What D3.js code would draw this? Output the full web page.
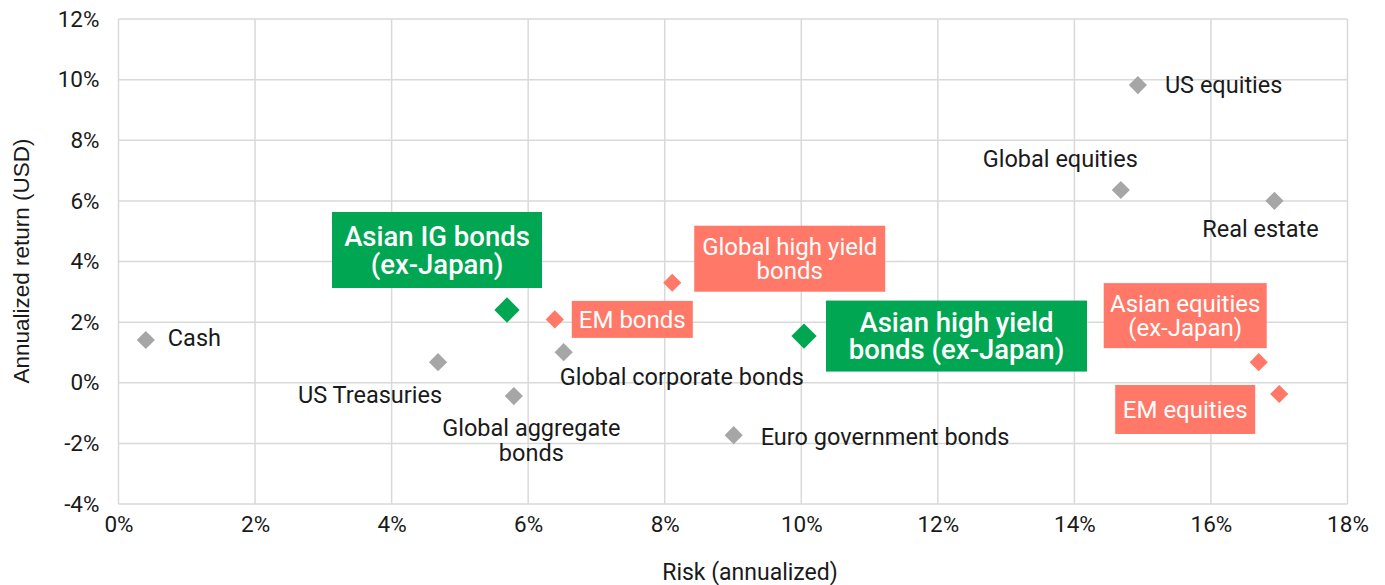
<html>
<head>
<meta charset="utf-8">
<title>Risk vs return</title>
<style>
  body { margin: 0; background: #fff; }
  text { font-family: Roboto, "Noto Sans", sans-serif; }
</style>
<script src="https://d3js.org/d3.v7.min.js"></script>
</head>
<body>
<svg width="1385" height="585"></svg>
<script>
// data (risk %, return %)
var names = ["Cash", "US Treasuries", "Global aggregate bonds", "Global corporate bonds",
  "Euro government bonds", "US equities", "Global equities", "Real estate",
  "Asian IG bonds (ex-Japan)", "EM bonds", "Global high yield bonds",
  "Asian high yield bonds (ex-Japan)", "Asian equities (ex-Japan)", "EM equities"];
var risk = [0.4, 4.68, 5.79, 6.52, 9.01, 14.93, 14.68, 16.93, 5.69, 6.39, 8.11, 10.04, 16.70, 17.00];
var ret = [1.41, 0.68, -0.44, 1.01, -1.73, 9.82, 6.36, 6.00, 2.40, 2.09, 3.30, 1.54, 0.68, -0.37];
var group = ["other", "other", "other", "other", "other", "other", "other", "other",
  "asia", "em", "em", "asia", "em", "em"];
var xTicks = [0, 2, 4, 6, 8, 10, 12, 14, 16, 18];
var yTicks = [-4, -2, 0, 2, 4, 6, 8, 10, 12];

// label layout (pixel offsets from the marker)
var layout = {
  "Cash": {dx: 22, dy: -2, anchor: "start", lines: ["Cash"]},
  "US Treasuries": {dx: 4, dy: 33, anchor: "end", lines: ["US Treasuries"]},
  "Global aggregate bonds": {dx: 17.5, dy: 32, anchor: "middle", lines: ["Global aggregate", "bonds"], lh: 25},
  "Global corporate bonds": {dx: -4, dy: 25, anchor: "start", lines: ["Global corporate bonds"]},
  "Euro government bonds": {dx: 27, dy: 2, anchor: "start", lines: ["Euro government bonds"]},
  "US equities": {dx: 27, dy: 0, anchor: "start", lines: ["US equities"]},
  "Global equities": {dx: -60.5, dy: -31, anchor: "middle", lines: ["Global equities"]},
  "Real estate": {dx: -14, dy: 28, anchor: "middle", lines: ["Real estate"]},
  "Asian IG bonds (ex-Japan)": {box: true, dx: -70, dy: -60, w: 210, h: 76, lines: ["Asian IG bonds", "(ex-Japan)"], lh: 28},
  "EM bonds": {box: true, dx: 77.5, dy: 0, w: 121, h: 37, lines: ["EM bonds"]},
  "Global high yield bonds": {box: true, dx: 117.5, dy: -24, w: 191, h: 66, lines: ["Global high yield", "bonds"], lh: 23.5},
  "Asian high yield bonds (ex-Japan)": {box: true, dx: 152.5, dy: 0, w: 261, h: 71, lines: ["Asian high yield", "bonds (ex-Japan)"], lh: 27},
  "Asian equities (ex-Japan)": {box: true, dx: -73.5, dy: -46.5, w: 163, h: 65, lines: ["Asian equities", "(ex-Japan)"], lh: 23.5},
  "EM equities": {box: true, dx: -94, dy: 15.5, w: 140, h: 49, lines: ["EM equities"]}
};

var colors = {other: "#a6a6a6", asia: "#00a651", em: "#ff7868"};
var sizes = {other: 165, asia: 320, em: 165};

var svg = d3.select("svg"),
    margin = {top: 19, right: 37.5, bottom: 81, left: 118.5},
    width = +svg.attr("width") - margin.left - margin.right,
    height = +svg.attr("height") - margin.top - margin.bottom,
    g = svg.append("g").attr("transform", `translate(${margin.left},${margin.top})`);

var xScale = d3.scaleLinear().domain([0, 18]).range([0, width]);
var yScale = d3.scaleLinear().domain([-4, 12]).range([height, 0]);

// grid
g.append("g").selectAll("line").data(xTicks).enter().append("line")
  .attr("x1", d => xScale(d)).attr("x2", d => xScale(d))
  .attr("y1", 0).attr("y2", height)
  .attr("stroke", "#d9d9d9").attr("stroke-width", 1.5);
g.append("g").selectAll("line").data(yTicks).enter().append("line")
  .attr("x1", 0).attr("x2", width)
  .attr("y1", d => yScale(d)).attr("y2", d => yScale(d))
  .attr("stroke", "#d9d9d9").attr("stroke-width", 1.5);

// axes (labels only)
var xAxis = g.append("g").attr("transform", `translate(0,${height})`)
  .call(d3.axisBottom(xScale).tickValues(xTicks).tickSize(0).tickPadding(12).tickFormat(d => d + "%"));
var yAxis = g.append("g")
  .call(d3.axisLeft(yScale).tickValues(yTicks).tickSize(0).tickPadding(19).tickFormat(d => d + "%"));
[xAxis, yAxis].forEach(a => {
  a.select(".domain").remove();
  a.selectAll("text").attr("font-family", "Roboto").attr("font-size", 22.5).attr("fill", "#1a1a1a");
});

svg.append("text").attr("x", 750).attr("y", 580)
  .attr("text-anchor", "middle").attr("font-size", 23).attr("fill", "#1a1a1a")
  .text("Risk (annualized)");
svg.append("text").attr("transform", "translate(29,261) rotate(-90)")
  .attr("text-anchor", "middle").attr("font-size", 22.5).attr("fill", "#1a1a1a")
  .style("font-family", "'Liberation Sans', Arial, sans-serif")
  .text("Annualized return (USD)");

var pts = names.map((n, i) => ({name: n, x: risk[i], y: ret[i], group: group[i]}));

// labels
pts.forEach(p => {
  var L = layout[p.name];
  var cx = xScale(p.x) + L.dx, cy = yScale(p.y) + L.dy;
  var lh = L.lh || 0, n = L.lines.length;
  if (L.box) {
    g.append("rect").attr("x", cx - L.w / 2).attr("y", cy - L.h / 2)
      .attr("width", L.w).attr("height", L.h).attr("fill", colors[p.group]);
  }
  var t = g.append("text")
    .attr("text-anchor", L.box ? "middle" : L.anchor)
    .attr("fill", L.box ? "#fff" : "#1a1a1a")
    .attr("font-size", p.group === "asia" ? 27.5 : (L.box ? 24 : 23.5))
    .attr("font-weight", p.group === "asia" ? 500 : 400);
  L.lines.forEach((s, k) => {
    var off = L.anchor === "middle" && !L.box ? k * lh : (k - (n - 1) / 2) * lh;
    t.append("tspan").attr("x", cx).attr("y", cy + off).attr("dy", "0.35em").text(s);
  });
});

// markers
g.selectAll(".pt").data(pts).enter().append("path")
  .attr("class", "pt")
  .attr("d", d => d3.symbol(d3.symbolSquare, sizes[d.group])())
  .attr("transform", d => `translate(${xScale(d.x)},${yScale(d.y)}) rotate(45)`)
  .attr("fill", d => colors[d.group]);
</script>
</body>
</html>
